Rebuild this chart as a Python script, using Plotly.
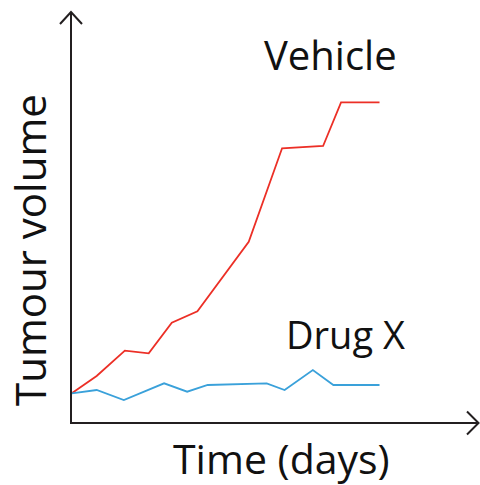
import plotly.graph_objects as go

# Data (arbitrary units)
vehicle_days = [0, 0.97, 2.07, 3.0, 3.9, 4.9, 6.9, 8.2, 9.8, 10.5, 12.0]
vehicle_vol = [28.7, 46, 71.3, 68.7, 99.3, 110.7, 180.3, 273.7, 276, 319.7, 319.7]
drug_days = [0, 0.97, 2.03, 3.6, 4.5, 5.3, 7.6, 8.3, 9.4, 10.2, 12.0]
drug_vol = [28.7, 32, 22, 38.7, 30.3, 37, 38.7, 32, 52, 37, 37]

series_names = ["Vehicle", "Drug X"]
x_title = "Time (days)"
y_title = "Tumour volume"

FONT = "Open Sans"
W, H = 480, 485
# plot area in page coords: x 71..478, y 12..422
L = 71
T = 12
R = W - 478
B = H - 422

fig = go.Figure()
fig.add_trace(go.Scatter(x=vehicle_days, y=vehicle_vol, mode="lines",
                         line=dict(color="#ec2f26", width=1.8), name=series_names[0]))
fig.add_trace(go.Scatter(x=drug_days, y=drug_vol, mode="lines",
                         line=dict(color="#3aa1da", width=1.8), name=series_names[1]))

fig.update_layout(
    width=W, height=H, margin=dict(l=L, r=R, t=T, b=B),
    paper_bgcolor="white", plot_bgcolor="white", showlegend=False,
    xaxis=dict(range=[-0.03, 15.84], visible=False, fixedrange=True),
    yaxis=dict(range=[0, 410], visible=False, fixedrange=True),
)

axis_col = "#231f20"
lw = 2
pw = W - L - R
ph = H - T - B
def px(x):
    return (x - L) / pw
def py(y):
    return (H - B - y) / ph

# axes lines with open arrowheads (page coords)
fig.add_shape(type="line", xref="paper", yref="paper", x0=px(71), y0=py(423), x1=px(71), y1=py(12),
              line=dict(color=axis_col, width=lw))
fig.add_shape(type="line", xref="paper", yref="paper", x0=px(70), y0=py(423), x1=px(478.5), y1=py(423),
              line=dict(color=axis_col, width=lw))
fig.add_shape(type="path", xref="paper", yref="paper",
              path=f"M {px(60)} {py(24)} L {px(71)} {py(12)} L {px(82)} {py(24)}",
              line=dict(color=axis_col, width=lw))
fig.add_shape(type="path", xref="paper", yref="paper",
              path=f"M {px(467)} {py(411.5)} L {px(478.5)} {py(423)} L {px(467)} {py(434.5)}",
              line=dict(color=axis_col, width=lw))

def ann(text, x, y, size, angle=0):
    fig.add_annotation(text=text, xref="paper", yref="paper", x=px(x), y=py(y),
                       xanchor="center", yanchor="middle", showarrow=False, textangle=angle,
                       borderpad=0,
                       font=dict(family=FONT, size=size, color="#111111"))

ann(series_names[0], 330, 55, 40)
ann(series_names[1], 345, 334, 38)
ann(x_title, 281, 458, 41)
ann(y_title, 29, 250, 42, -90)

fig.write_html("out.html", config={"displayModeBar": False, "staticPlot": True},
               post_script="document.body.style.margin='0';")
